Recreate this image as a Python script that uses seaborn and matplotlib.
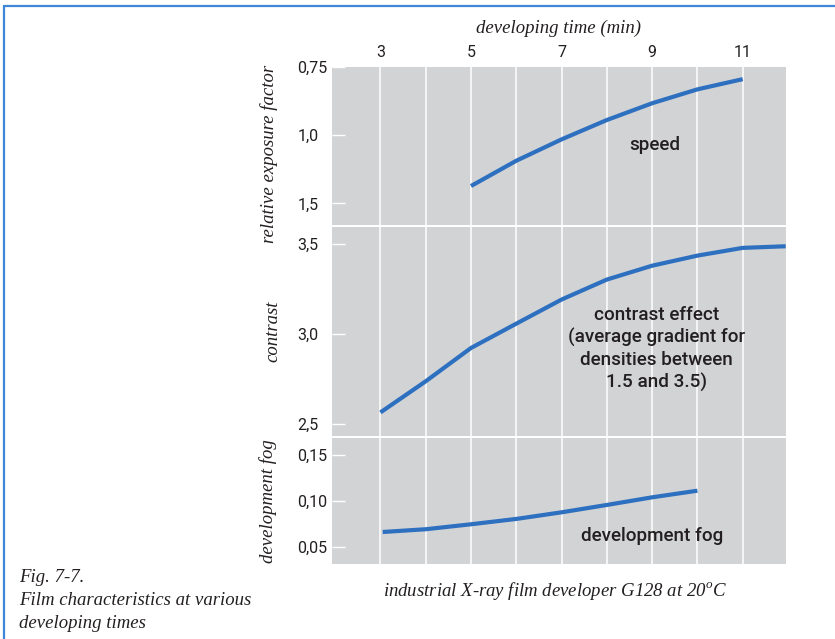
import matplotlib
matplotlib.use("Agg")
import matplotlib.pyplot as plt
import seaborn as sns
import pandas as pd
from matplotlib.lines import Line2D

# ---------------- data ----------------
speed_minutes = [5, 6, 7, 8, 9, 10, 11]
speed_factor = [1.331, 1.143, 1.021, 0.931, 0.865, 0.817, 0.785]

contrast_minutes = [3, 4, 5, 6, 7, 8, 9, 10, 11, 11.95]
contrast_values = [2.564, 2.737, 2.922, 3.057, 3.191, 3.302, 3.379, 3.435, 3.478, 3.487]

fog_minutes = [3.05, 4, 5, 6, 7, 8, 9, 10]
fog_values = [0.0666, 0.0696, 0.075, 0.0808, 0.088, 0.096, 0.1043, 0.1115]

x_major = [3, 5, 7, 9, 11]
x_minor = [4, 6, 8, 10]
speed_ticks = [0.75, 1.0, 1.5]
speed_ticklabels = ["0,75", "1,0", "1,5"]
contrast_ticks = [2.5, 3.0, 3.5]
contrast_ticklabels = ["2,5", "3,0", "3,5"]
fog_ticks = [0.05, 0.10, 0.15]
fog_ticklabels = ["0,05", "0,10", "0,15"]

# ---------------- style ----------------
sns.set_style("white")
BG = "#d2d3d5"
LINE = "#2e70c0"
TXT = "#231f20"
SERIF = ["Liberation Serif", "DejaVu Serif"]
SANS = ["Roboto", "DejaVu Sans"]
plt.rcParams["font.family"] = SANS

W, H = 835, 639
fig = plt.figure(figsize=(W / 100, H / 100), dpi=100)

L = 332 / W
Wd = (785.7 - 332) / W


def add_panel(top_px, bot_px):
    return fig.add_axes([L, 1 - bot_px / H, Wd, (bot_px - top_px) / H])


ax1 = add_panel(67, 225)
ax2 = add_panel(227, 436)
ax3 = add_panel(438, 564)

df_speed = pd.DataFrame({"t": speed_minutes, "v": speed_factor})
df_con = pd.DataFrame({"t": contrast_minutes, "v": contrast_values})
df_fog = pd.DataFrame({"t": fog_minutes, "v": fog_values})

for ax, df in [(ax1, df_speed), (ax2, df_con), (ax3, df_fog)]:
    sns.lineplot(data=df, x="t", y="v", ax=ax, color=LINE, linewidth=3.0,
                 solid_capstyle="butt", solid_joinstyle="round", zorder=3)
    ax.set_facecolor(BG)
    for s in ax.spines.values():
        s.set_visible(False)
    ax.set_xlim(1.93, 11.95)
    ax.set_xticks(x_major)
    ax.set_xticks(x_minor, minor=True)
    ax.grid(True, axis="x", which="both", color="white", linewidth=1.1)
    ax.grid(False, axis="y")
    ax.set_xlabel("")
    ax.tick_params(axis="y", direction="in", length=9, width=1.0, color="white",
                   pad=25, labelsize=11.5, labelcolor=TXT, left=True)
    ax.tick_params(axis="x", which="both", length=0)

# speed panel: reciprocal scale, inverted
ax1.set_yscale("function", functions=(lambda v: -1.0 / v, lambda u: -1.0 / u))
ax1.set_ylim(1.7835, 0.75)
ax1.set_yticks(speed_ticks)
ax1.set_yticklabels(speed_ticklabels)
ax1.yaxis.set_minor_locator(matplotlib.ticker.NullLocator())
ax1.xaxis.tick_top()
ax1.tick_params(axis="x", which="major", labeltop=True, labelbottom=False,
                pad=5, labelsize=11.5, labelcolor=TXT)
ax1.set_xticklabels([str(v) for v in x_major])
ax1.xaxis.set_label_position("top")
ax1.set_xlabel("developing time (min)", family=SERIF, style="italic",
               fontsize=13.5, color=TXT, labelpad=9)

ax2.set_ylim(2.433, 3.594)
ax2.set_yticks(contrast_ticks)
ax2.set_yticklabels(contrast_ticklabels)

ax3.set_ylim(0.0318, 0.1688)
ax3.set_yticks(fog_ticks)
ax3.set_yticklabels(fog_ticklabels)

for ax in (ax2, ax3):
    ax.tick_params(axis="x", labelbottom=False, labeltop=False)

for ax in (ax1, ax2, ax3):
    for lab in ax.get_yticklabels():
        lab.set_horizontalalignment("left")

for ax, lab, xpx, yc in [(ax1, "relative exposure factor", 278, 0.45),
                         (ax2, "contrast", 281, 0.5),
                         (ax3, "development fog", 277, 0.5)]:
    ax.set_ylabel(lab, family=SERIF, style="italic", fontsize=13.5, color=TXT)
    ax.yaxis.set_label_coords((xpx - 332) / (785.7 - 332), yc)

# in-panel annotations
ann = dict(fontsize=13.6, color=TXT, ha="center", va="center", fontweight="medium")
ax1.text(9.05, 1.05, "speed", **ann)
ax2.text(9.1, 2.916, "contrast effect\n(average gradient for\ndensities between\n1.5 and 3.5)",
         linespacing=1.28, **ann)
ax3.text(9.0, 0.062, "development fog", **ann)

# bottom caption & figure caption
fig.text(555 / W, 1 - 591 / H, "industrial X-ray film developer G128 at 20$^{\\mathregular{o}}$C",
         family=SERIF, style="italic", fontsize=13.5, color=TXT,
         ha="center", va="center")
fig.text(19 / W, 1 - 569 / H,
         "Fig. 7-7.\nFilm characteristics at various\ndeveloping times",
         family=SERIF, style="italic", fontsize=13.5, color=TXT,
         ha="left", va="top", linespacing=1.45)

# blue frame lines (top and left)
BLUE = "#3f86d6"
fig.add_artist(Line2D([4 / W, 1.0], [1 - 6 / H, 1 - 6 / H], transform=fig.transFigure,
                      color=BLUE, linewidth=1.6))
fig.add_artist(Line2D([4 / W, 4 / W], [1 - 6 / H, 0.0], transform=fig.transFigure,
                      color=BLUE, linewidth=1.6))

fig.savefig("out.png", dpi=100, facecolor="white")
